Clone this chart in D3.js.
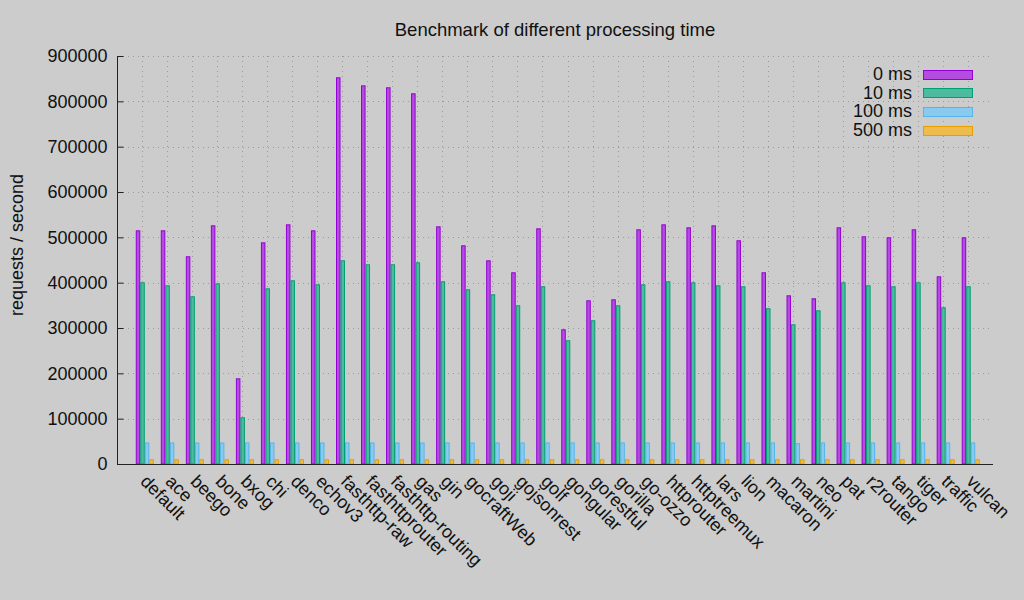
<!DOCTYPE html>
<html>
<head>
<meta charset="utf-8">
<script src="https://cdn.jsdelivr.net/npm/d3@7"></script>
<style>
  html, body { margin: 0; padding: 0; background: #cccccc; }
  svg { display: block; font-family: "Liberation Sans", Arial, sans-serif; }
</style>
</head>
<body>
<svg id="chart" width="1024" height="600"></svg>
<script>
const categories = ["default","ace","beego","bone","bxog","chi","denco","echov3","fasthttp-raw","fasthttprouter","fasthttp-routing","gas","gin","gocraftWeb","goji","gojsonrest","golf","gongular","gorestful","gorilla","go-ozzo","httprouter","httptreemux","lars","lion","macaron","martini","neo","pat","r2router","tango","tiger","traffic","vulcan"];
const seriesNames = ["0 ms","10 ms","100 ms","500 ms"];
const ms0   = [515500,515500,458200,526500,189000,489000,528700,515500,853000,835300,831000,817700,524300,482400,449300,422900,519900,297100,361100,363300,517700,528700,522100,526500,493500,422900,372100,365500,522100,502300,500100,517700,414000,500100];
const ms10  = [400800,394200,369900,398600,103000,387500,405200,396400,449300,440500,440500,444900,403000,385400,374300,350100,392000,272900,317000,350100,396400,403000,400800,394200,392000,343500,308200,339000,400800,394200,392000,400800,345700,392000];
const ms100 = [47500,47500,47500,47500,47500,47500,47500,47500,47500,47500,47500,47500,47500,47500,47500,47500,47500,47500,47500,47500,47500,47500,47500,47500,47500,47500,46000,47500,47500,47500,47500,47500,47500,47500];
const ms500 = [10500,10500,10500,10500,10500,10500,10500,10500,10500,10500,10500,10500,10500,10500,10500,10500,10500,10500,10500,10500,10500,10500,10500,10500,10500,10500,10500,10500,10500,10500,10500,10500,10500,10500];
const yTicks = [0,100000,200000,300000,400000,500000,600000,700000,800000,900000];
const strokeColors = ["#9400d3","#009e73","#56b4e9","#e69f00"];
const fillColors = ["#b44ce0","#4dbb9d","#89cbf0","#eebc4c"];

const series = [ms0, ms10, ms100, ms500];
const svg = d3.select("#chart");
const L = 117, R = 993, T = 56, B = 464;

const x = d3.scaleLinear().domain([-1, 34]).range([L, R]);
const y = d3.scaleLinear().domain([0, 900000]).range([B, T]);
const barW = 0.18, barOff = -0.25;

// grid
const grid = svg.append("g").attr("stroke", "#9a9a9a").attr("stroke-width", 1).attr("stroke-dasharray", "1,4");
grid.selectAll("line.h").data(yTicks.slice(1)).join("line")
  .attr("x1", L + 6).attr("x2", R)
  .attr("y1", d => Math.round(y(d)) + 0.5).attr("y2", d => Math.round(y(d)) + 0.5);
grid.selectAll("line.v").data(categories).join("line")
  .attr("x1", (d, i) => Math.round(x(i)) + 0.5).attr("x2", (d, i) => Math.round(x(i)) + 0.5)
  .attr("y1", T).attr("y2", B);

// bars
series.forEach((vals, j) => {
  svg.append("g").selectAll("rect").data(vals).join("rect")
    .attr("x", (d, i) => x(i + barOff + j * barW) + 0.5)
    .attr("width", x(barW) - x(0) - 1)
    .attr("y", d => y(d) + 0.5)
    .attr("height", d => B - y(d) - 0.5)
    .attr("fill", fillColors[j])
    .attr("stroke", strokeColors[j])
    .attr("stroke-width", 1);
});

// axes
const yAxis = d3.axisLeft(y).tickValues(yTicks).tickSize(-6).tickPadding(10).tickFormat(d3.format("d"));
const gy = svg.append("g").attr("transform", `translate(${L + 0.5},0)`).call(yAxis);
gy.select(".domain").attr("stroke", "#222").attr("d", `M0,${T}V${B}`);
gy.selectAll(".tick line").attr("stroke", "#222");
gy.selectAll(".tick text").attr("font-size", 18).attr("fill", "#111").attr("font-family", "Liberation Sans, Arial, sans-serif");

const xAxis = d3.axisBottom(x).tickValues(d3.range(categories.length)).tickSize(0).tickFormat(i => categories[i]);
const gx = svg.append("g").attr("transform", `translate(0,${B + 0.5})`).call(xAxis);
gx.select(".domain").attr("stroke", "#222").attr("d", `M${L},0H${R}`);
gx.selectAll(".tick text")
  .attr("font-size", 18).attr("fill", "#111").attr("font-family", "Liberation Sans, Arial, sans-serif")
  .attr("text-anchor", "start")
  .attr("dy", null).attr("y", 0)
  .attr("transform", "translate(-3,18) rotate(45)");

// title
svg.append("text").attr("x", 555).attr("y", 36).attr("text-anchor", "middle")
  .attr("font-size", 18.5).attr("fill", "#111").text("Benchmark of different processing time");

// y label
svg.append("text").attr("transform", "translate(23,245) rotate(-90)").attr("text-anchor", "middle")
  .attr("font-size", 18).attr("fill", "#111").text("requests / second");

// legend
const lg = svg.append("g");
seriesNames.forEach((name, j) => {
  const cy = 73.5 + j * 18.7;
  lg.append("text").attr("x", 912).attr("y", cy + 6.5).attr("text-anchor", "end")
    .attr("font-size", 18).attr("fill", "#111").text(name);
  lg.append("rect").attr("x", 923.5).attr("y", Math.round(cy - 4) + 0.5).attr("width", 49).attr("height", 9)
    .attr("fill", fillColors[j]).attr("stroke", strokeColors[j]).attr("stroke-width", 1);
});
</script>
</body>
</html>
